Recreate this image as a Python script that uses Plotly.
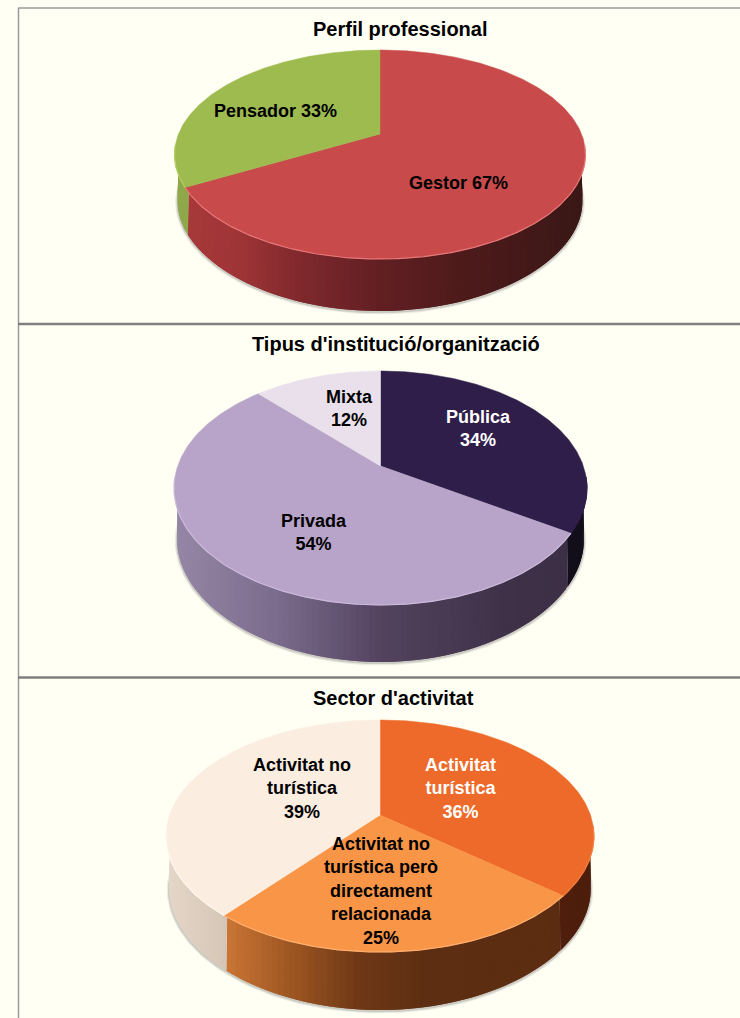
import math
import plotly.graph_objects as go

# ---- data ----
perfil_labels = ["Gestor 67%", "Pensador 33%"]
perfil_values = [67, 33]
institucio_labels = ["Pública<br>34%", "Privada<br>54%", "Mixta<br>12%"]
institucio_values = [34, 54, 12]
sector_labels = ["Activitat<br>turística<br>36%",
                 "Activitat no<br>turística però<br>directament<br>relacionada<br>25%",
                 "Activitat no<br>turística<br>39%"]
sector_values = [36, 25, 39]
titles = ["Perfil professional", "Tipus d'institució/organització", "Sector d'activitat"]

# ---- styles / layout ----
BG = "#FFFFF4"
FONT = "Liberation Sans"
LABEL_SIZE = 18
TITLE_SIZE = 20


def hex_rgb(c):
    return tuple(int(c[i:i + 2], 16) for i in (1, 3, 5))


def mix_stops(stops, t):
    t = min(max(t, 0), 1)
    for (t0, c0), (t1, c1) in zip(stops, stops[1:]):
        if t <= t1:
            f = (t - t0) / (t1 - t0) if t1 > t0 else 0
            a, b = hex_rgb(c0), hex_rgb(c1)
            return "rgb(%d,%d,%d)" % tuple(round(a[i] + (b[i] - a[i]) * f) for i in range(3))
    return stops[-1][1]


RED_SIDE = [(0, "#A83A3A"), (.15, "#9F3436"), (.3, "#80292D"), (.48, "#642024"), (.7, "#4E1A1A"), (1, "#3A1817")]
GREEN_SIDE = [(0, "#8FA84A"), (1, "#84A03C")]
PURPLE_SIDE = [(0, "#1C1428"), (1, "#120E1A")]
LILAC_SIDE = [(0, "#9586A6"), (.25, "#7A6B8C"), (.5, "#53435F"), (.8, "#3F3248"), (1, "#3B2E45")]
CREAM_SIDE = [(0, "#E4D6C8"), (.15, "#D4C4B4"), (1, "#D4C4B4")]
ORANGE_SIDE = [(0, "#D07A34"), (.14, "#C87434"), (.3, "#9A5420"), (.45, "#6E3816"), (.6, "#5E2E12"), (1, "#5C2C12")]
DARK_ORANGE_SIDE = [(0, "#5A2410"), (1, "#4E1E0C")]

panels = [
    dict(values=perfil_values, labels=perfil_labels, title=titles[0], title_xy=(400, 29),
         cx=380, cy=134, rx=205.5, up=84, down=125, depth=52,
         tops=["#C84A4B", "#9DBB4F"], sides=[RED_SIDE, GREEN_SIDE],
         rims=["#E8787A", "#B4D060"], text=["#000000", "#000000"],
         label_xy=[(458, 183), (275, 111)]),
    dict(values=institucio_values, labels=institucio_labels, title=titles[1], title_xy=(396, 344),
         cx=380.5, cy=466, rx=206.5, up=95, down=139, depth=57,
         tops=["#2F1E4A", "#B9A4C9", "#E9E0EC"], sides=[PURPLE_SIDE, LILAC_SIDE, LILAC_SIDE],
         rims=["#2F1E4A", "#CDBBDC", "#E9E0EC"], text=["#FFFFFF", "#000000", "#000000"],
         label_xy=[(478, 428), (314, 532), (349, 408)]),
    dict(values=sector_values, labels=sector_labels, title=titles[2], title_xy=(393, 698),
         cx=380, cy=815, rx=214, up=95, down=137, depth=58,
         tops=["#EE6A2A", "#F99546", "#FBEDE0"], sides=[DARK_ORANGE_SIDE, ORANGE_SIDE, CREAM_SIDE],
         rims=["#F58040", "#FFB070", "#FFF8F0"], text=["#FFFFFF", "#000000", "#000000"],
         label_xy=[(461, 788), (381, 891), (302, 788)]),
]


def rim(p, theta):
    """Project a clockwise-from-top pie angle on to the tilted disc."""
    k = (p["down"] - p["up"]) / (p["down"] + p["up"])
    b = p["up"] * (1 + k)
    a = p["rx"] * math.sqrt(1 - k * k)
    u, v = math.sin(theta), math.cos(theta)
    w = 1 + k * v
    return p["cx"] + a * u / w, p["cy"] - b * v / w


def lower(p, pt):
    """Matching point on the bottom edge of the disc's side wall."""
    x, y = pt
    return p["cx"] + (x - p["cx"]) * 0.985, y + p["depth"] - 5 * (abs(x - p["cx"]) / p["rx"]) ** 2


def inner(p, pt):
    """A point just inside the top face, so the wall starts hidden under it."""
    return p["cx"] + (pt[0] - p["cx"]) * 0.98, p["cy"] + (pt[1] - p["cy"]) * 0.98


fig = go.Figure()
annotations = []
STEP = math.radians(1.5)

for p in panels:
    total = sum(p["values"])
    edges = [0]
    for val in p["values"]:
        edges.append(edges[-1] + val / total * 2 * math.pi)

    # soft shadow below the wall
    n = 240
    shadow = [lower(p, rim(p, math.pi / 2 + math.pi * i / n)) for i in range(-8, n + 9)]
    for wid, col in ((5, "rgba(90,90,90,0.12)"), (2.5, "rgba(90,90,90,0.22)")):
        fig.add_trace(go.Scatter(x=[q[0] for q in shadow], y=[q[1] + 1 for q in shadow], mode="lines",
                                 line=dict(color=col, width=wid), hoverinfo="skip", showlegend=False))

    # side wall: thin quads shaded across the pie's width; each one runs under
    # the next so that no background shows through the joins
    for i in range(len(p["values"])):
        t0, t1 = edges[i], edges[i + 1]
        count = max(1, int((t1 - t0) / STEP))
        size = (t1 - t0) / count
        for j in range(count):
            a0 = t0 + size * j
            a1 = a0 + size
            if math.cos((a0 + a1) / 2) > 0.25:
                continue
            a2 = min(a1 + size, t1)
            q0, q1 = rim(p, a0), rim(p, a2)
            m = rim(p, a1)
            b0, b1 = lower(p, q0), lower(p, q1)
            i0, i1 = inner(p, q0), inner(p, q1)
            t = ((q0[0] + m[0]) / 2 - (p["cx"] - p["rx"])) / (2 * p["rx"])
            col = mix_stops(p["sides"][i], t)
            fig.add_trace(go.Scatter(x=[i0[0], i1[0], b1[0], b0[0], i0[0]],
                                     y=[i0[1], i1[1], b1[1], b0[1], i0[1]],
                                     mode="none", fill="toself", fillcolor=col,
                                     hoverinfo="skip", showlegend=False))

    # top faces
    for i in range(len(p["values"])):
        t0, t1 = edges[i], edges[i + 1]
        count = max(2, int((t1 - t0) / (STEP / 2)))
        pts = [rim(p, t0 + (t1 - t0) * j / count) for j in range(count + 1)]
        xs = [p["cx"]] + [q[0] for q in pts] + [p["cx"]]
        ys = [p["cy"]] + [q[1] for q in pts] + [p["cy"]]
        fig.add_trace(go.Scatter(x=xs, y=ys, mode="lines", fill="toself", fillcolor=p["tops"][i],
                                 line=dict(color=p["tops"][i], width=0.5),
                                 hoverinfo="skip", showlegend=False))
        # bright edge of the disc at the front
        front = [q for q in pts if q[1] > p["cy"] + 10]
        if front:
            fig.add_trace(go.Scatter(x=[q[0] for q in front], y=[q[1] for q in front], mode="lines",
                                     line=dict(color=p["rims"][i], width=1.2),
                                     hoverinfo="skip", showlegend=False))

    annotations.append(dict(x=p["title_xy"][0], y=p["title_xy"][1], text="<b>%s</b>" % p["title"],
                            xref="x", yref="y", showarrow=False, xanchor="center", yanchor="middle",
                            font=dict(family=FONT, size=TITLE_SIZE, color="#000000")))
    for lab, xy, col in zip(p["labels"], p["label_xy"], p["text"]):
        annotations.append(dict(x=xy[0], y=xy[1], text="<b>%s</b>" % lab, xref="x", yref="y",
                                showarrow=False, xanchor="center", yanchor="middle", align="center",
                                font=dict(family=FONT, size=LABEL_SIZE, color=col)))

frame = "#7F7F7F"
shapes = [
    dict(type="line", xref="x", yref="y", x0=18.5, x1=18.5, y0=8, y1=1018, line=dict(color="#9A9A9A", width=1.5)),
    dict(type="line", xref="x", yref="y", x0=18, x1=740, y0=8, y1=8, line=dict(color="#9A9A9A", width=1.5)),
    dict(type="line", xref="x", yref="y", x0=18, x1=740, y0=324, y1=324, line=dict(color=frame, width=2.5)),
    dict(type="line", xref="x", yref="y", x0=18, x1=740, y0=677.5, y1=677.5, line=dict(color=frame, width=2.5)),
]

fig.update_layout(
    width=740, height=1018, margin=dict(l=0, r=0, t=0, b=0),
    paper_bgcolor=BG, plot_bgcolor=BG, showlegend=False,
    xaxis=dict(range=[0, 740], visible=False, fixedrange=True),
    yaxis=dict(range=[1018, 0], visible=False, fixedrange=True),
    annotations=annotations, shapes=shapes,
)

fig.write_html("out.html", config={"displayModeBar": False},
               post_script="document.body.style.margin='0';document.body.style.background='%s';" % BG)
